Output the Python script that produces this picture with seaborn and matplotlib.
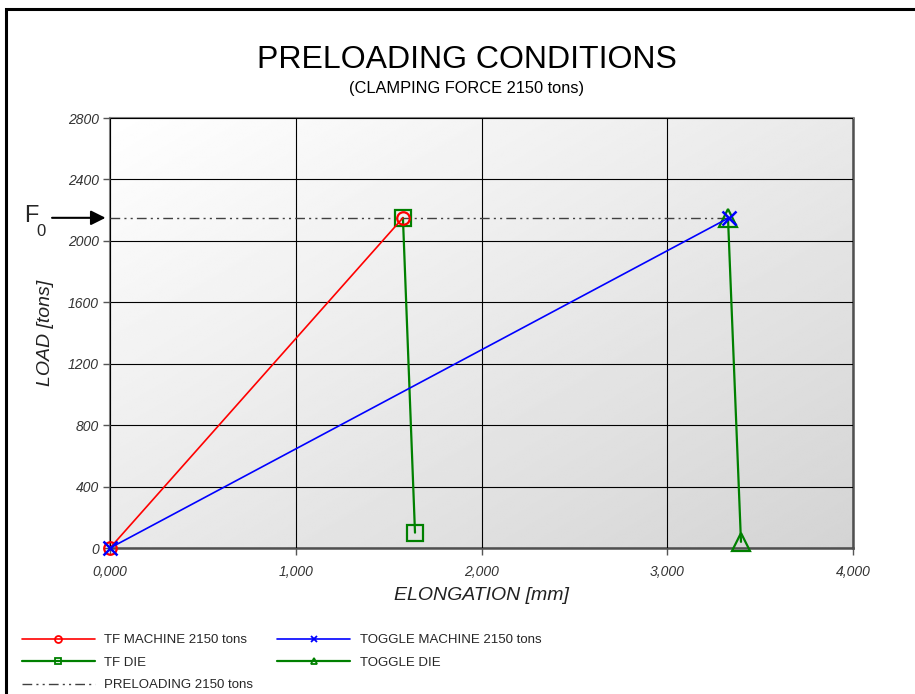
import numpy as np
import pandas as pd
import matplotlib
matplotlib.use("Agg")
import matplotlib.pyplot as plt
import matplotlib.ticker as mticker
from matplotlib.patches import Rectangle
import seaborn as sns

# --- data -------------------------------------------------------------
tf_machine_x = [0.0, 1.577]
tf_machine_y = [0, 2150]
tf_die_x = [1.577, 1.642]
tf_die_y = [2150, 100]
toggle_machine_x = [0.0, 3.332]
toggle_machine_y = [0, 2150]
toggle_die_x = [3.327, 3.397]
toggle_die_y = [2150, 40]
preload_x = [0.0, 3.33]
preload_y = [2150, 2150]

x_ticks = [0, 1, 2, 3, 4]
y_ticks = [0, 400, 800, 1200, 1600, 2000, 2400, 2800]

labels = {
    "tfm": "TF MACHINE 2150 tons",
    "tfd": "TF DIE",
    "pre": "PRELOADING 2150 tons",
    "tgm": "TOGGLE MACHINE 2150 tons",
    "tgd": "TOGGLE DIE",
}

# --- style ------------------------------------------------------------
sns.set_style("white")
plt.rcParams["font.family"] = ["Liberation Sans", "DejaVu Sans"]

fig = plt.figure(figsize=(9.15, 6.94), dpi=100)
ax = fig.add_axes([110 / 915, 146 / 694, 743 / 915, 430 / 694])

# diagonal grey gradient behind the plot area
n = 256
u = np.linspace(0, 1, n)
U, V = np.meshgrid(u, u)
grad = 1.0 - 0.17 * (0.5 * U + 0.5 * (1 - V))
ax.imshow(grad, extent=[0, 1, 0, 1], origin="lower", transform=ax.transAxes,
          aspect="auto", cmap="gray", vmin=0, vmax=1, zorder=0,
          interpolation="bilinear")


def series(x, y):
    return pd.DataFrame({"x": x, "y": y})


sns.lineplot(data=series(preload_x, preload_y), x="x", y="y", ax=ax,
             color="#404040", lw=1.0, dashes=False, sort=False, estimator=None,
             label=labels["pre"], zorder=3)
pre_line = ax.lines[-1]
pre_line.set_dashes([7, 3, 1.5, 3, 1.5, 3])

sns.lineplot(data=series(tf_die_x, tf_die_y), x="x", y="y", ax=ax,
             color="#008000", lw=1.6, marker="s", markersize=12,
             mfc="none", mec="#008000", mew=1.6, sort=False, estimator=None,
             label=labels["tfd"], zorder=4)
sns.lineplot(data=series(toggle_die_x, toggle_die_y), x="x", y="y", ax=ax,
             color="#008000", lw=1.6, marker="^", markersize=13,
             mfc="none", mec="#008000", mew=1.6, sort=False, estimator=None,
             label=labels["tgd"], zorder=4)
sns.lineplot(data=series(tf_machine_x, tf_machine_y), x="x", y="y", ax=ax,
             color="#ff0000", lw=1.2, marker="o", markersize=9,
             mfc="none", mec="#ff0000", mew=1.6, sort=False, estimator=None,
             label=labels["tfm"], zorder=5)
sns.lineplot(data=series(toggle_machine_x, toggle_machine_y), x="x", y="y", ax=ax,
             color="#0000ff", lw=1.2, marker="x", markersize=10,
             mec="#0000ff", mew=1.8, sort=False, estimator=None,
             label=labels["tgm"], zorder=6)
for ln in ax.lines:
    ln.set_clip_on(False)

ax.set_xlim(0, 4)
ax.set_ylim(0, 2800)
ax.xaxis.set_major_locator(mticker.FixedLocator(x_ticks))
ax.yaxis.set_major_locator(mticker.FixedLocator(y_ticks))
ax.xaxis.set_major_formatter(mticker.FuncFormatter(
    lambda v, p: f"{v:.3f}".replace(".", ",")))
ax.grid(True, color="black", lw=0.8)
ax.set_axisbelow(False)
for gl in ax.get_xgridlines() + ax.get_ygridlines():
    gl.set_zorder(1)
    gl.set_clip_on(True)

ax.tick_params(axis="both", which="major", direction="out", length=5,
               width=1, color="#555555", labelsize=10, labelcolor="#333333",
               left=True, bottom=True)
ax.tick_params(axis="y", pad=3)
ax.tick_params(axis="x", pad=7)
for t in ax.get_xticklabels() + ax.get_yticklabels():
    t.set_fontstyle("italic")

for side in ["left", "top"]:
    ax.spines[side].set_color("#808080")
    ax.spines[side].set_linewidth(1.5)
for side in ["right", "bottom"]:
    ax.spines[side].set_color("#505050")
    ax.spines[side].set_linewidth(1.8)

ax.set_xlabel("ELONGATION [mm]", fontsize=14, fontstyle="italic",
              color="#222222", labelpad=6)
ax.set_ylabel("LOAD [tons]", fontsize=14, fontstyle="italic",
              color="#222222", labelpad=10)

# F0 marker for the preload level
ax.annotate("", xy=(-0.006, 2150), xytext=(-0.078, 2150),
            xycoords=("axes fraction", "data"),
            textcoords=("axes fraction", "data"),
            arrowprops=dict(arrowstyle="-|>", color="black", lw=1.5,
                            mutation_scale=22, shrinkA=0, shrinkB=0),
            annotation_clip=False)
ax.text(-0.1157, 2160, "F", transform=ax.get_yaxis_transform(),
        fontsize=17, ha="left", va="center", clip_on=False)
ax.text(-0.0985, 2060, "0", transform=ax.get_yaxis_transform(),
        fontsize=12, ha="left", va="center", clip_on=False)

# titles
fig.text(467 / 915, 1 - 60 / 694, "PRELOADING CONDITIONS", fontsize=23,
         ha="center", va="center", color="black")
fig.text(467 / 915, 1 - 89 / 694, "(CLAMPING FORCE 2150 tons)", fontsize=11.8,
         ha="center", va="center", color="black")

# legend below the plot
handles, labs = ax.get_legend_handles_labels()
lookup = dict(zip(labs, handles))
order = [labels["tfm"], labels["tfd"], labels["pre"], labels["tgm"], labels["tgd"]]
ax.get_legend().remove()
leg = fig.legend([lookup[k] for k in order], order, loc="upper left",
                 bbox_to_anchor=(22 / 915, 1 - 634 / 694), ncol=2,
                 frameon=False, fontsize=9.5, handlelength=5.5,
                 handletextpad=0.75, columnspacing=1.8, labelspacing=0.78,
                 borderpad=0, borderaxespad=0)
for h in leg.legend_handles:
    h.set_markersize(5)
    h.set_markeredgewidth(1.3)

# outer frame
fig.add_artist(Rectangle((5.5 / 915, -0.1), 1.2, 1.1 - 9 / 694,
                         transform=fig.transFigure, fill=False,
                         edgecolor="black", lw=2.2, clip_on=False))

fig.savefig("out.png", dpi=100)
